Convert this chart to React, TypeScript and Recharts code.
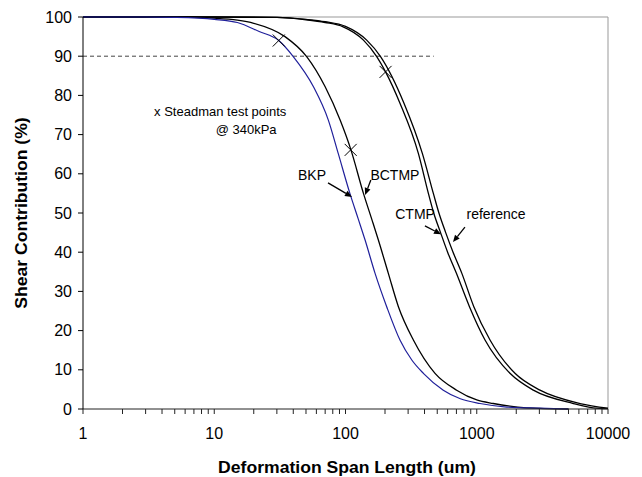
import React from 'react';
import { ComposedChart, Line, Scatter, XAxis, YAxis, ReferenceLine, ReferenceDot } from 'recharts';

const FONT = '"Liberation Sans", Arial, Helvetica, sans-serif';

// span length (um) / shear contribution (%)
const bkpX = [1, 3, 5, 10, 15, 22, 31, 40, 57, 74, 88, 108, 125, 141, 168, 206, 260, 320, 392, 556, 750, 1059, 1690, 3000, 5000];
const bkpY = [100, 100, 99.9, 99.4, 98.6, 96.3, 94, 89.9, 82.2, 73.7, 65.2, 55, 48.5, 43.1, 34.6, 26.1, 17.6, 12.5, 9.1, 4.8, 2.6, 1.4, 0.5, 0.2, 0];

const bctmpX = [1, 5, 10, 15, 20, 34.6, 50.6, 70, 91, 110, 137, 160, 178, 212, 253, 329, 481, 703, 1000, 1337, 2400, 5000];
const bctmpY = [100, 100, 99.7, 99.2, 98.4, 95, 89.9, 82.2, 73.7, 66.1, 55, 48, 43.1, 34.6, 26.1, 17.6, 9.1, 4.8, 2.3, 1.4, 0.3, 0];

const ctmpX = [1, 10, 30, 50, 70, 96, 137, 173, 202, 260, 359, 428, 470, 530, 600, 700, 880, 1156, 1791, 2698, 5450, 7700, 10000];
const ctmpY = [100, 100, 99.9, 99.3, 98.6, 97.5, 94.1, 89.9, 86, 78, 65.2, 55, 50, 45, 40, 34.6, 26.1, 17.6, 9.1, 4.8, 1.4, 0.3, 0.1];

const refX = [1, 10, 30, 50, 70, 100, 145, 185, 279, 385, 467, 515, 580, 660, 770, 950, 1262, 1955, 3033, 6120, 10000];
const refY = [100, 100, 99.9, 99.4, 98.8, 97.6, 94.1, 89.9, 78, 65.2, 55, 50, 45, 40, 34.6, 26.1, 17.6, 9.1, 4.8, 1.4, 0.2];

// Steadman test points @ 340kPa
const testX = [31, 109.5, 202];
const testY = [94, 66.1, 86];

const xTicks = [
  1, 2, 3, 4, 5, 6, 7, 8, 9,
  10, 20, 30, 40, 50, 60, 70, 80, 90,
  100, 200, 300, 400, 500, 600, 700, 800, 900,
  1000, 2000, 3000, 4000, 5000, 6000, 7000, 8000, 9000,
  10000,
];
const xLabels = [1, 10, 100, 1000, 10000];
const yTicks = [0, 10, 20, 30, 40, 50, 60, 70, 80, 90, 100];

// annotations, in data units
const curveNames = ['BKP', 'BCTMP', 'CTMP', 'reference'];
const nameX = [55.6, 238, 339, 1403];
const nameY = [59.7, 59.7, 49.7, 49.7];
const arrowFrom = [[73.6, 57.7], [156, 58.4], [403, 46.7], [813, 46.4]];
const arrowTo = [[112, 54.1], [141, 54.6], [534, 44.6], [659, 42.6]];
const noteLines = ['x Steadman test points', '@ 340kPa'];
const noteX = [11.1, 17.5];
const noteY = [75.8, 71.4];

const pts = (xs: number[], ys: number[]) => xs.map((x, i) => ({ x, y: ys[i] }));

const Cross = (p: any) => (
  <g stroke="#000" strokeWidth={1}>
    <line x1={p.cx - 6} y1={p.cy - 6} x2={p.cx + 6} y2={p.cy + 6} />
    <line x1={p.cx - 6} y1={p.cy + 6} x2={p.cx + 6} y2={p.cy - 6} />
  </g>
);

const Arrow = (p: any) => {
  const dx = p.x2 - p.x1;
  const dy = p.y2 - p.y1;
  const len = Math.sqrt(dx * dx + dy * dy) || 1;
  const ux = dx / len;
  const uy = dy / len;
  const hl = 7;
  const hw = 3;
  const bx = p.x2 - ux * hl;
  const by = p.y2 - uy * hl;
  return (
    <g>
      <line x1={p.x1} y1={p.y1} x2={bx} y2={by} stroke="#000" strokeWidth={1.3} />
      <polygon
        points={`${p.x2},${p.y2} ${bx - uy * hw},${by + ux * hw} ${bx + uy * hw},${by - ux * hw}`}
        fill="#000"
      />
    </g>
  );
};

const textShape = (txt: string, size: number, anchor: string) => (p: any) => (
  <text
    x={p.cx}
    y={p.cy}
    textAnchor={anchor}
    dominantBaseline="central"
    fontSize={size}
    fontFamily={FONT}
    fill="#000"
  >
    {txt}
  </text>
);

export default function App() {
  const tickStyle = { fontSize: 16, fill: '#000', fontFamily: FONT };
  return (
    <div style={{ position: 'absolute', left: 0, top: 0, width: 642, height: 477, background: '#fff' }}>
      <ComposedChart
        width={642}
        height={477}
        margin={{ top: 17, right: 34, bottom: 0, left: 0 }}
        style={{ fontFamily: FONT }}
      >
        <XAxis
          dataKey="x"
          type="number"
          scale="log"
          domain={[1, 10000]}
          allowDataOverflow
          ticks={xTicks}
          interval={0}
          tickFormatter={(v: number) => (xLabels.includes(v) ? String(v) : '')}
          tick={tickStyle}
          tickSize={5}
          tickMargin={14}
          height={68}
          stroke="#222"
        />
        <YAxis
          type="number"
          domain={[0, 100]}
          ticks={yTicks}
          interval={0}
          tick={tickStyle}
          tickSize={5}
          tickMargin={6}
          width={83}
          stroke="#000"
        />
        <ReferenceLine y={100} stroke="#999" strokeWidth={1} />
        <ReferenceLine x={10000} stroke="#999" strokeWidth={1} />
        <ReferenceLine
          segment={[{ x: 1, y: 90 }, { x: 470, y: 90 }]}
          stroke="#444"
          strokeWidth={1}
          strokeDasharray="4 3"
        />
        <Line data={pts(refX, refY)} dataKey="y" type="monotone" stroke="#000" strokeWidth={1.3} dot={false} isAnimationActive={false} />
        <Line data={pts(ctmpX, ctmpY)} dataKey="y" type="monotone" stroke="#000" strokeWidth={1.3} dot={false} isAnimationActive={false} />
        <Line data={pts(bctmpX, bctmpY)} dataKey="y" type="monotone" stroke="#000" strokeWidth={1.3} dot={false} isAnimationActive={false} />
        <Line data={pts(bkpX, bkpY)} dataKey="y" type="monotone" stroke="#1f1f9a" strokeWidth={1.2} dot={false} isAnimationActive={false} />
        <Scatter data={pts(testX, testY)} dataKey="y" shape={Cross} isAnimationActive={false} />
        {arrowFrom.map((a, i) => (
          <ReferenceLine
            key={'a' + i}
            segment={[{ x: a[0], y: a[1] }, { x: arrowTo[i][0], y: arrowTo[i][1] }]}
            shape={Arrow}
          />
        ))}
        {curveNames.map((n, i) => (
          <ReferenceDot key={'n' + i} x={nameX[i]} y={nameY[i]} r={0} shape={textShape(n, 14, 'middle')} />
        ))}
        {noteLines.map((n, i) => (
          <ReferenceDot key={'t' + i} x={noteX[i]} y={noteY[i]} r={0} shape={textShape(n, 13, 'middle')} />
        ))}
      </ComposedChart>
      <svg width={642} height={477} style={{ position: 'absolute', left: 0, top: 0, pointerEvents: 'none' }}>
        <text
          transform="translate(347 473) scale(1.1 1)"
          textAnchor="middle"
          fontSize={16}
          fontWeight="bold"
          fontFamily={FONT}
          fill="#000"
        >
          Deformation Span Length (um)
        </text>
        <text
          transform="translate(27 213) rotate(-90) scale(1.1 1)"
          textAnchor="middle"
          fontSize={16}
          fontWeight="bold"
          fontFamily={FONT}
          fill="#000"
        >
          Shear Contribution (%)
        </text>
      </svg>
    </div>
  );
}
